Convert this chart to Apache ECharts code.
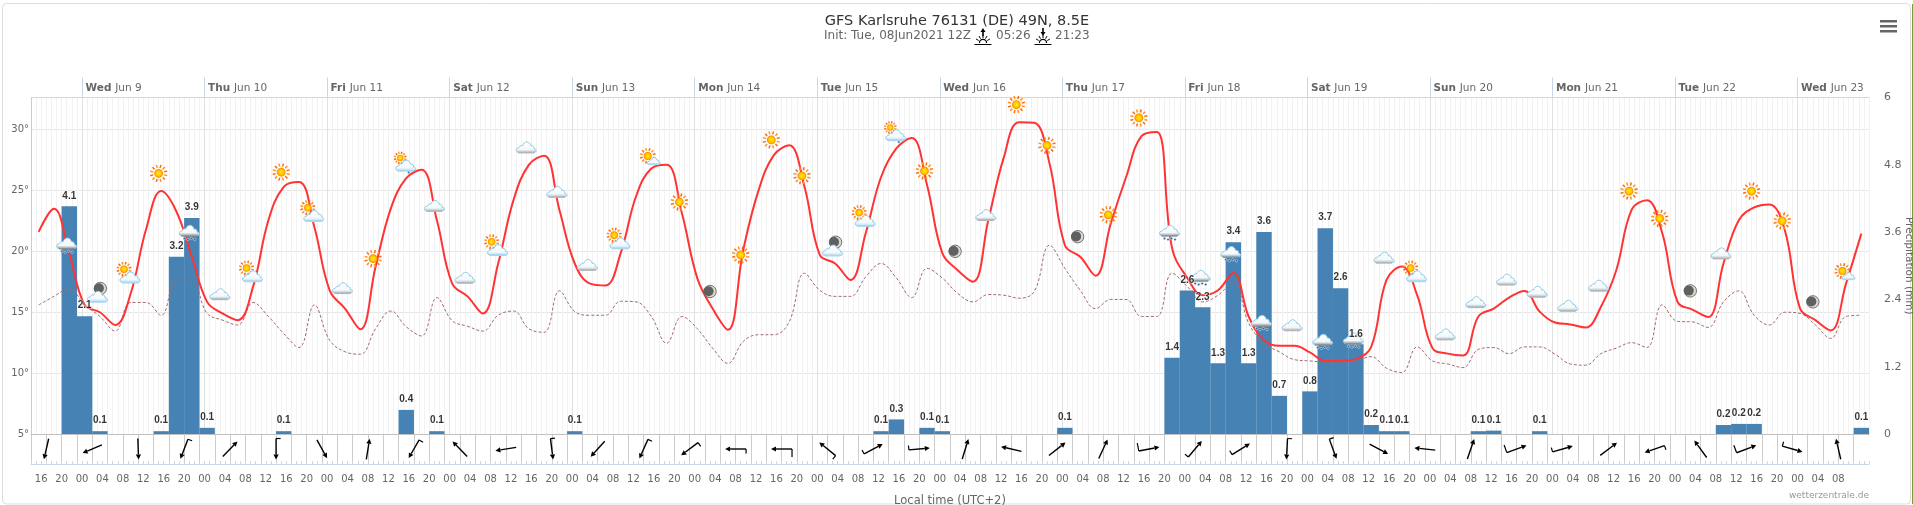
<!DOCTYPE html>
<html>
<head>
<meta charset="utf-8">
<title>GFS Karlsruhe</title>
<script src="https://cdn.jsdelivr.net/npm/echarts@6/dist/echarts.min.js"></script>
<style>
html, body { margin: 0; padding: 0; background: #fff; }
#chart { width: 1913px; height: 505px; }
</style>
</head>
<body>
<div id="chart"></div>
<script>
// 3-hourly model output, hour offset 0 is Tue Jun 8 14:00 local time
var temp2m = [
    21.6, 23.5, 19.8, 15.6, 15.0, 13.95, 16.5, 21.75, 24.95, 23.25,
    19.55, 15.85, 14.9, 14.35, 17.1, 22.55, 25.3, 25.7, 22.0, 16.8,
    15.3, 13.6, 18.75, 23.55, 26.0, 26.7, 22.55, 17.35, 16.3, 14.9,
    19.0, 24.2, 27.1, 27.85, 23.4, 19.0, 17.35, 17.2, 19.85, 24.5,
    26.8, 27.1, 23.1, 17.8, 15.3, 13.55, 20.1, 25.0, 27.9, 28.7,
    25.3, 19.7, 19.0, 17.65, 21.5, 26.1, 28.45, 29.3, 25.45, 19.85,
    18.45, 17.5, 22.55, 27.65, 30.6, 30.55, 27.2, 20.5, 19.55, 18.0,
    22.3, 26.1, 29.45, 29.8, 20.25, 17.8, 16.4, 16.8, 18.25, 14.65,
    12.7, 12.25, 12.25, 11.7, 11.0, 11.0, 11.15, 12.15, 17.65, 18.75,
    16.4, 12.05, 11.6, 11.45, 14.65, 15.3, 16.2, 16.75, 15.05, 14.15,
    14.0, 13.75, 15.45, 18.45, 23.4, 24.2, 21.5, 15.85, 15.2, 14.6,
    19.0, 22.55, 23.6, 23.85, 21.75, 15.3, 14.35, 13.5, 17.35, 21.45
];
var dewPoint = [
    15.6, 16.3, 16.95, 15.6, 14.65, 13.45, 15.8, 15.8, 14.75, 17.55,
    17.5, 14.9, 14.35, 13.95, 15.8, 14.65, 13.25, 12.1, 15.6, 12.7,
    11.75, 11.55, 13.65, 15.1, 13.8, 13.05, 16.2, 14.3, 13.85, 13.45,
    14.75, 15.1, 13.65, 13.35, 16.75, 15.05, 14.75, 14.75, 15.9, 15.85,
    14.65, 12.45, 14.65, 13.65, 12.05, 10.8, 12.6, 13.15, 13.15, 14.2,
    18.2, 16.8, 16.3, 16.3, 17.9, 19.0, 17.8, 16.2, 18.6, 17.8,
    16.55, 15.85, 16.45, 16.4, 16.15, 16.7, 20.5, 18.6, 16.8, 15.3,
    16.05, 16.05, 14.65, 14.65, 18.2, 17.1, 15.85, 16.4, 17.5, 14.1,
    12.45, 11.75, 11.1, 11.0, 10.9, 10.9, 11.0, 11.35, 10.4, 10.05,
    12.15, 11.0, 10.75, 10.45, 11.95, 12.1, 11.6, 12.15, 12.15, 11.55,
    10.75, 10.65, 11.6, 12.05, 12.5, 12.1, 15.6, 14.25, 14.2, 13.75,
    15.85, 16.75, 14.75, 13.95, 15.0, 14.9, 13.95, 12.85, 14.65, 14.75
];
var precip = [
    0, 0, 4.06, 2.1, 0.05, 0, 0, 0, 0.05, 3.16,
    3.85, 0.11, 0, 0, 0, 0, 0.05, 0, 0, 0,
    0, 0, 0, 0, 0.43, 0, 0.05, 0, 0, 0,
    0, 0, 0, 0, 0, 0.05, 0, 0, 0, 0,
    0, 0, 0, 0, 0, 0, 0, 0, 0, 0,
    0, 0, 0, 0, 0, 0.05, 0.26, 0, 0.11, 0.05,
    0, 0, 0, 0, 0, 0, 0, 0.11, 0, 0,
    0, 0, 0, 0, 1.36, 2.56, 2.26, 1.26, 3.42, 1.26,
    3.6, 0.68, 0, 0.76, 3.67, 2.6, 1.6, 0.16, 0.05, 0.05,
    0, 0, 0, 0, 0.05, 0.06, 0, 0, 0.05, 0,
    0, 0, 0, 0, 0, 0, 0, 0, 0, 0,
    0.16, 0.18, 0.18, 0, 0, 0, 0, 0, 0, 0.11
];
// weather symbols, one every 6 hours from hour 7
var iconKind = [
    'rain', 'mooncloud', 'suncloud', 'sun', 'rain', 'cloud', 'suncloud', 'sun', 'suncloud', 'cloud',
    'sun', 'sunrain', 'cloud', 'cloud', 'suncloud', 'cloud', 'cloud', 'cloud', 'suncloud', 'sunlet',
    'sun', 'moon', 'sun', 'sun', 'sun', 'mooncloud', 'suncloud', 'sunrain', 'sun', 'moon',
    'cloud', 'sun', 'sun', 'moon', 'sun', 'sun', 'rain', 'rain', 'rain', 'rain',
    'cloud', 'rain', 'rain', 'cloud', 'suncloud', 'cloud', 'cloud', 'cloud', 'cloud', 'cloud',
    'cloud', 'sun', 'sun', 'moon', 'cloud', 'sun', 'sun', 'moon', 'sunlet'
];
var iconTemp = [
    20.5, 16.7, 18.2, 26.4, 21.55, 16.5, 18.3, 26.5, 23.25, 17.0,
    19.4, 27.3, 23.75, 17.85, 20.45, 28.55, 24.9, 18.9, 21.0, 27.75,
    24.05, 16.7, 19.7, 29.15, 26.2, 20.5, 22.85, 29.8, 26.6, 20.0,
    23.0, 32.05, 28.7, 21.2, 23.0, 30.95, 21.55, 17.85, 19.8, 14.15,
    13.95, 12.6, 12.7, 19.5, 18.3, 13.2, 15.85, 17.7, 16.7, 15.55,
    17.2, 24.95, 22.7, 16.75, 19.85, 24.95, 22.5, 15.85, 18.3
];
// wind arrows, one every 9 hours from hour 3: heading in degrees, feather 0-2
var windHeading = [
    193, 247, 178, 201, 44, 180, 151, 9, 210, 316,
    261, 173, 222, 204, 233, 270, 270, 309, 62, 85,
    17, 283, 52, 25, 79, 40, 58, 183, 160, 118,
    276, 19, 70, 74, 53, 251, 324, 69, 106, 347
];
var windFeather = [
    0, 0, 0, 1, 0, 1, 0, 0, 1, 0,
    0, 1, 0, 1, 1, 1, 2, 1, 1, 1,
    0, 0, 0, 0, 2, 1, 1, 1, 1, 0,
    0, 0, 2, 1, 0, 1, 0, 2, 1, 0
];
var dayNames = ['Wed', 'Thu', 'Fri', 'Sat', 'Sun', 'Mon', 'Tue', 'Wed', 'Thu', 'Fri', 'Sat', 'Sun', 'Mon', 'Tue', 'Wed'];
var dayDates = ['Jun 9', 'Jun 10', 'Jun 11', 'Jun 12', 'Jun 13', 'Jun 14', 'Jun 15', 'Jun 16', 'Jun 17', 'Jun 18', 'Jun 19', 'Jun 20', 'Jun 21', 'Jun 22', 'Jun 23'];

var FONT = '"DejaVu Sans", sans-serif';
var GREY = '#666666';
var HOURS = 360;
var myChart = echarts.init(document.getElementById('chart'));

var dayTicks = dayNames.map(function (d, i) { return 10 + 24 * i; });
var tempData = temp2m.map(function (v, i) { return [1.5 + 3 * i, v]; });
var dewData = dewPoint.map(function (v, i) { return [1.5 + 3 * i, v]; });
var barData = [];
for (var i = 0; i < precip.length; i++) {
    if (precip[i] > 0) barData.push([1.5 + 3 * i, precip[i]]);
}
var iconData = iconKind.map(function (k, i) { return [7 + 6 * i, iconTemp[i], i]; });
var windData = windHeading.map(function (h, i) { return [3 + 9 * i, 0.5, i]; });

function sunShape(x, y, r) {
    var kids = [];
    for (var a = 0; a < 12; a++) {
        var t = a * Math.PI / 6 + 0.26;
        kids.push({
            type: 'line',
            shape: { x1: x + Math.cos(t) * r * 1.3, y1: y + Math.sin(t) * r * 1.3, x2: x + Math.cos(t) * r * 2, y2: y + Math.sin(t) * r * 2 },
            style: { stroke: a % 2 ? '#ff6a10' : '#ff9420', lineWidth: 1.5 }
        });
    }
    kids.push({
        type: 'circle',
        shape: { cx: x, cy: y, r: r },
        style: {
            fill: new echarts.graphic.RadialGradient(0.5, 0.5, 0.5, [
                { offset: 0, color: '#ffee00' }, { offset: 0.6, color: '#ffc800' }, { offset: 1, color: '#ff8000' }
            ])
        }
    });
    return kids;
}

function cloudShape(x, y, w, baseColor) {
    var h = w * 0.6;
    return [{
        type: 'path',
        shape: {
            pathData: 'M2.5 10 C0 10 0 6 3 6 C3.5 4.5 5 4 6 4.5 C7 0.5 12 0 13 4.5 C15 4 16 6 15.5 7 C18 7 18 10 15.5 10 Z',
            x: x - w / 2, y: y - h / 2, width: w, height: h
        },
        style: {
            fill: new echarts.graphic.LinearGradient(0, 0, 0, 1, [
                { offset: 0, color: '#ffffff' }, { offset: 0.7, color: '#f2f8fc' }, { offset: 1, color: baseColor }
            ]),
            stroke: '#92cbe6',
            lineWidth: 1
        }
    }, {
        type: 'line',
        shape: { x1: x - w / 2 + 2, y1: y + h / 2 - 0.5, x2: x + w / 2 - 2, y2: y + h / 2 - 0.5 },
        style: { stroke: baseColor, lineWidth: 1.5 }
    }];
}

function moonShape(x, y, r) {
    return [
        { type: 'circle', shape: { cx: x, cy: y, r: r }, style: { fill: '#d9d9cc', stroke: '#555', lineWidth: 0.8 } },
        { type: 'circle', shape: { cx: x - 1.5, cy: y - 0.3, r: r - 1.2 }, style: { fill: '#606060' } }
    ];
}

function dropShape(x, y) {
    return { type: 'circle', shape: { cx: x, cy: y, r: 1.2 }, style: { fill: '#1f639f', stroke: '#fff', lineWidth: 0.5 } };
}

function renderIcon(params, api) {
    var p = api.coord([api.value(0), api.value(1)]);
    var x = p[0], y = p[1];
    var kind = iconKind[api.value(2)];
    var kids = [];
    if (kind === 'sun') {
        kids = sunShape(x, y, 4.4);
    } else if (kind === 'cloud') {
        kids = cloudShape(x, y, 20, '#b5b5b5');
    } else if (kind === 'rain') {
        kids = cloudShape(x, y - 2, 20, '#8f8f8f');
        kids.push(dropShape(x - 5, y + 6), dropShape(x - 1.5, y + 7), dropShape(x + 2, y + 6), dropShape(x + 5.5, y + 7));
    } else if (kind === 'suncloud') {
        kids = sunShape(x - 4, y - 4, 3.8).concat(cloudShape(x + 2, y + 4, 20, '#a9d8f0'));
    } else if (kind === 'sunrain') {
        kids = sunShape(x - 3.5, y - 4.5, 3.2).concat(cloudShape(x + 2, y + 3, 20, '#a9d8f0'));
        kids.push(dropShape(x + 5, y + 10));
    } else if (kind === 'sunlet') {
        kids = sunShape(x - 1, y - 1, 4).concat(cloudShape(x + 5, y + 4, 13, '#a9d8f0'));
    } else if (kind === 'moon') {
        kids = moonShape(x, y, 6.2);
    } else if (kind === 'mooncloud') {
        kids = moonShape(x + 3, y - 3, 6.2).concat(cloudShape(x, y + 5, 20, '#a9d8f0'));
    }
    return { type: 'group', children: kids };
}

function renderWind(params, api) {
    var p = api.coord([api.value(0), api.value(1)]);
    var idx = api.value(2);
    var a = windHeading[idx] * Math.PI / 180;
    var ux = Math.sin(a), uy = -Math.cos(a);
    var half = 10.5;
    var tail = [p[0] - ux * half, p[1] - uy * half];
    var head = [p[0] + ux * half, p[1] + uy * half];
    var neck = [p[0] + ux * (half - 5), p[1] + uy * (half - 5)];
    var kids = [{
        type: 'line',
        shape: { x1: tail[0], y1: tail[1], x2: neck[0], y2: neck[1] },
        style: { stroke: '#000', lineWidth: 1.4 }
    }, {
        type: 'polygon',
        shape: { points: [head, [neck[0] - uy * 2.6, neck[1] + ux * 2.6], [neck[0] + uy * 2.6, neck[1] - ux * 2.6]] },
        style: { fill: '#000' }
    }];
    var feather = windFeather[idx];
    if (feather > 0) {
        var len = feather === 2 ? 8 : 4.5;
        kids.push({
            type: 'line',
            shape: { x1: tail[0], y1: tail[1], x2: tail[0] + uy * len, y2: tail[1] - ux * len },
            style: { stroke: '#000', lineWidth: 1.2 }
        });
    }
    return { type: 'group', children: kids };
}

// little black sunrise/sunset mark in the subtitle
function sunMark(x, up) {
    var kids = [
        { type: 'line', shape: { x1: x - 8.5, y1: 44.5, x2: x + 8.5, y2: 44.5 }, style: { stroke: '#000', lineWidth: 1 } },
        { type: 'arc', shape: { cx: x, cy: 43, r: 3.6, startAngle: Math.PI, endAngle: 0 }, style: { stroke: '#000', fill: null, lineWidth: 1.2 } },
        { type: 'line', shape: { x1: x, y1: up ? 32 : 28, x2: x, y2: up ? 36 : 32 }, style: { stroke: '#000', lineWidth: 1.6 } },
        { type: 'polygon', shape: { points: up ? [[x, 28], [x - 2.5, 32], [x + 2.5, 32]] : [[x, 36], [x - 2.5, 32], [x + 2.5, 32]] }, style: { fill: '#000' } }
    ];
    [-60, -30, 0, 30, 60].forEach(function (deg) {
        var t = deg * Math.PI / 180;
        kids.push({
            type: 'line',
            shape: { x1: x + Math.sin(t) * 5, y1: 43 - Math.cos(t) * 5, x2: x + Math.sin(t) * 8, y2: 43 - Math.cos(t) * 8 },
            style: { stroke: '#000', lineWidth: 1 }
        });
    });
    return { type: 'group', children: kids, silent: true };
}

var option = {
    animation: false,
    backgroundColor: '#fff',
    textStyle: { fontFamily: FONT },
    title: [
        { text: 'GFS Karlsruhe 76131 (DE) 49N, 8.5E', left: 957, top: 14, textAlign: 'center', padding: 0, textStyle: { fontFamily: FONT, fontSize: 14.5, fontWeight: 'normal', color: '#333' } },
        { text: 'Init: Tue, 08Jun2021 12Z', left: 824, top: 29.5, padding: 0, textStyle: { fontFamily: FONT, fontSize: 12, fontWeight: 'normal', color: GREY } },
        { text: '05:26', left: 996, top: 29.5, padding: 0, textStyle: { fontFamily: FONT, fontSize: 12, fontWeight: 'normal', color: GREY } },
        { text: '21:23', left: 1055, top: 29.5, padding: 0, textStyle: { fontFamily: FONT, fontSize: 12, fontWeight: 'normal', color: GREY } }
    ],
    grid: [
        { left: 31, top: 97.5, width: 1838, height: 336.5, outerBoundsMode: 'none' },
        { left: 31, top: 434, width: 1838, height: 30, outerBoundsMode: 'none' }
    ],
    xAxis: [
        {   // hourly stripes behind the plot
            type: 'value', gridIndex: 0, position: 'bottom', min: 0, max: HOURS, interval: 1,
            axisLine: { show: false }, axisTick: { show: false }, axisLabel: { show: false },
            splitLine: { show: true, lineStyle: { color: '#f2f2f2', width: 1 } }
        },
        {   // day labels above the plot
            type: 'value', gridIndex: 0, position: 'top', min: 0, max: HOURS,
            axisLine: { show: true, lineStyle: { color: '#ccd6eb' } },
            axisTick: { show: true, length: 20, customValues: dayTicks, lineStyle: { color: '#ccd6eb' } },
            axisLabel: {
                show: true, customValues: dayTicks, margin: 3, align: 'left', color: GREY,
                formatter: function (v) {
                    var i = dayTicks.indexOf(v);
                    return i < 0 ? '' : '{b|' + dayNames[i] + '} {n|' + dayDates[i] + '}';
                },
                rich: {
                    b: { fontFamily: FONT, fontSize: 10.5, fontWeight: 'bold', color: GREY, padding: [0, 0, 0, 3.5] },
                    n: { fontFamily: FONT, fontSize: 10.5, color: GREY }
                }
            },
            splitLine: { show: true, lineStyle: { color: '#e0e0e0', width: 1 } }
        },
        {   // hour labels under the wind row
            type: 'value', gridIndex: 1, position: 'bottom', min: 0, max: HOURS, interval: 1,
            name: 'Local time (UTC+2)', nameLocation: 'middle', nameGap: 31.5,
            nameTextStyle: { fontFamily: FONT, fontSize: 11.5, color: GREY },
            axisLine: { show: true, lineStyle: { color: '#ccd6eb' } },
            axisTick: { show: true, inside: true, length: 3, lineStyle: { color: '#ccd6eb' } },
            axisLabel: {
                show: true, margin: 10, fontSize: 10, fontFamily: FONT, color: GREY, hideOverlap: false,
                formatter: function (v) {
                    var h = (14 + v) % 24;
                    if (h % 4 !== 0 || v > 355) return '';
                    return h < 10 ? '0' + h : '' + h;
                }
            },
            splitLine: { show: false }
        },
        {   // cell lines of the wind row
            type: 'value', gridIndex: 1, position: 'top', min: 0, max: HOURS, interval: 3,
            axisLine: { show: true, lineStyle: { color: '#c0c0c0' } },
            axisTick: { show: false }, axisLabel: { show: false },
            splitLine: { show: true, showMaxLine: false, lineStyle: { color: '#cccccc', width: 1 } }
        }
    ],
    yAxis: [
        {
            type: 'value', gridIndex: 0, position: 'left', min: 5, max: 32.63, interval: 5,
            axisLine: { show: true, lineStyle: { color: '#d0d0d0' } }, axisTick: { show: false },
            axisLabel: {
                margin: 2, fontSize: 10, fontFamily: FONT, color: GREY,
                formatter: function (v) { return v % 5 === 0 ? v + '°' : ''; }
            },
            splitLine: { show: true, lineStyle: { color: '#e6e6e6', width: 1 } }
        },
        {
            type: 'value', gridIndex: 0, position: 'right', min: 0, max: 6, interval: 1.2,
            name: 'Precipitation (mm)', nameLocation: 'middle', nameGap: 34, nameRotate: -90, nameMoveOverlap: false,
            nameTextStyle: { fontFamily: FONT, fontSize: 10.5, color: GREY },
            axisLine: { show: true, lineStyle: { color: '#cccccc' } }, axisTick: { show: false },
            axisLabel: { margin: 15, fontSize: 11, fontFamily: FONT, color: GREY },
            splitLine: { show: false }
        },
        {
            type: 'value', gridIndex: 1, min: 0, max: 1,
            axisLine: { show: false }, axisTick: { show: false }, axisLabel: { show: false }, splitLine: { show: false }
        }
    ],
    series: [
        {
            name: 'Precipitation', type: 'bar', xAxisIndex: 0, yAxisIndex: 1, z: 2,
            barWidth: 15.4, data: barData,
            itemStyle: { color: '#4682b4' }
        },
        {
            name: 'Dew point', type: 'line', xAxisIndex: 0, yAxisIndex: 0, z: 3,
            smooth: 0.4, showSymbol: false, data: dewData,
            lineStyle: { color: '#a46a6e', width: 1, type: [3, 2] }
        },
        {
            name: 'Temperature', type: 'line', xAxisIndex: 0, yAxisIndex: 0, z: 4,
            smooth: 0.4, showSymbol: false, data: tempData,
            lineStyle: { color: '#ff3333', width: 2 }
        },
        {
            name: 'Symbols', type: 'custom', xAxisIndex: 0, yAxisIndex: 0, z: 5, clip: false,
            renderItem: renderIcon, data: iconData
        },
        {   // bar values sit on top of lines and symbols
            name: 'Precipitation labels', type: 'scatter', xAxisIndex: 0, yAxisIndex: 1, z: 6,
            symbolSize: 1, itemStyle: { color: 'transparent' }, data: barData, silent: true,
            label: {
                show: true, position: 'top', distance: 5, fontFamily: '"Liberation Sans", sans-serif', fontSize: 10, fontWeight: 'bold',
                color: '#000', textBorderColor: '#fff', textBorderWidth: 1,
                formatter: function (p) { return p.value[1].toFixed(1); }
            }
        },
        {
            name: 'Wind', type: 'custom', xAxisIndex: 2, yAxisIndex: 2, z: 5,
            renderItem: renderWind, data: windData
        }
    ],
    graphic: [
        { type: 'rect', shape: { x: 2.5, y: 3.5, width: 1908, height: 500.5, r: 4 }, style: { fill: null, stroke: '#dddddd', lineWidth: 1 }, silent: true },
        { type: 'line', shape: { x1: 1912.5, y1: 4, x2: 1912.5, y2: 504 }, style: { stroke: '#7a9a3a', lineWidth: 1 }, silent: true },
        { type: 'rect', shape: { x: 1880, y: 20, width: 17, height: 2.5 }, style: { fill: GREY }, silent: true },
        { type: 'rect', shape: { x: 1880, y: 25, width: 17, height: 2.5 }, style: { fill: GREY }, silent: true },
        { type: 'rect', shape: { x: 1880, y: 30, width: 17, height: 2.5 }, style: { fill: GREY }, silent: true },
        { type: 'text', style: { x: 1869, y: 491, text: 'wetterzentrale.de', align: 'right', fill: '#999999', font: '9px ' + FONT }, silent: true },
        sunMark(983, true),
        sunMark(1043, false)
    ]
};
myChart.setOption(option);
</script>
</body>
</html>
